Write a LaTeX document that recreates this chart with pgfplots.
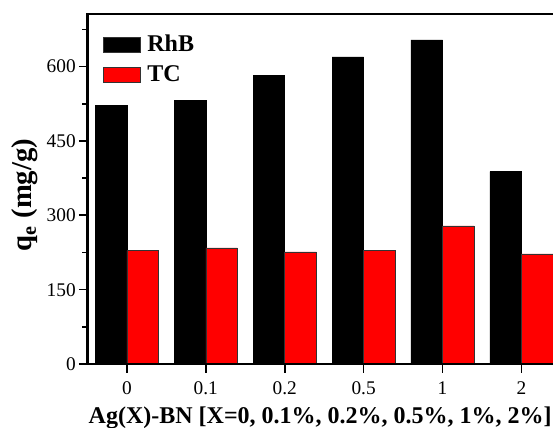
\documentclass[border=0pt]{standalone}
\usepackage{fontspec}
\setmainfont{Liberation Serif}
\usepackage{pgfplots}
\pgfplotsset{compat=1.18}
\begin{document}
\begin{tikzpicture}
\begin{axis}[
  scale only axis,
  width=349.1pt, height=262.5pt,
  xmin=-0.5, xmax=5.4, ymin=0, ymax=706,
  axis x line*=bottom, axis y line*=left,
  axis line style={-, line width=1.6pt, line cap=rect},
  axis on top,
  xtick={0,1,2,3,4,5}, xticklabels={0,0.1,0.2,0.5,1,2},
  ytick={0,150,300,450,600}, minor ytick={75,225,375,525,675},
  tick align=outside,
  major tick length=6.5pt, minor tick length=4pt,
  every tick/.style={black, line width=1.2pt},
  /pgf/number format/assume math mode=true,
  tick label style={font=\fontsize{14.5}{16}\selectfont},
  xticklabel style={yshift=-3.4pt},
  yticklabel style={xshift=1.2pt},
  xlabel={Ag(X)-BN [X=0, 0.1\%, 0.2\%, 0.5\%, 1\%, 2\%]},
  ylabel={q\textsubscript{e} (mg/g)},
  xlabel style={font=\fontsize{18}{20}\selectfont\bfseries, at={(rel axis cs:0.5,0)}, anchor=base, yshift=-44.25pt},
  ylabel style={font=\fontsize{21.5}{23}\selectfont\bfseries, at={(rel axis cs:-0.1343,0.483)}, anchor=center},
  legend style={at={(rel axis cs:0,1)}, anchor=north west, draw=none, fill=none,
    inner sep=0pt, outer sep=0pt, xshift=11.65pt, yshift=-13.9pt,
    font=\fontsize{18}{20}\selectfont\bfseries,
    nodes={inner sep=2pt, text height=12pt, text depth=3pt},
    row sep=3.5pt, column sep=3pt},
  legend cell align=left,
]
\addplot[ybar, bar width=0.4, bar shift=-0.2, fill=black, draw=black, line width=0.4pt,
  legend image code/.code={\draw[fill=black, draw=black!80, line width=0.5pt] (0pt,-5.6pt) rectangle (27.75pt,5.6pt);}]
  coordinates {(0,522) (1,532) (2,582) (3,619.5) (4,654) (5,388)};
\addlegendentry{RhB}
\addplot[ybar, bar width=0.4, bar shift=0.2, fill=red, draw=black!80, line width=0.4pt,
  legend image code/.code={\draw[fill=red, draw=black!80, line width=0.5pt] (0pt,-5.6pt) rectangle (27.75pt,5.6pt);}]
  coordinates {(0,228.5) (1,234.5) (2,226) (3,230) (4,278.5) (5,222)};
\addlegendentry{TC}
\draw[line width=1.6pt, line cap=rect] (rel axis cs:0,1) -- (rel axis cs:1,1);
\coordinate (BL) at (rel axis cs:0,0);
\coordinate (TR) at (rel axis cs:1,1);
\end{axis}
\pgfresetboundingbox
\path[use as bounding box] ([xshift=-65.6pt,yshift=-47.25pt]BL) rectangle ([yshift=10.5pt]TR);
\end{tikzpicture}
\end{document}
